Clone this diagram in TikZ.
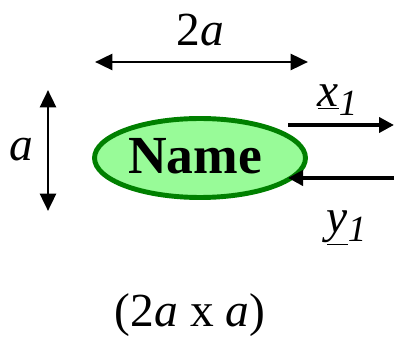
\documentclass[tikz,border=0pt]{standalone}
\usepackage{fontspec}
\setmainfont{Liberation Serif}
\usetikzlibrary{arrows.meta,positioning,shapes.geometric}
\definecolor{LeafGreen}{RGB}{152,251,152}
\definecolor{DarkGreen}{RGB}{0,128,0}

\begin{document}
\begin{tikzpicture}[x=0.02cm, y=-0.02cm,
	dim/.style={line width=1.7pt, {Triangle[length=0.35cm,width=0.32cm]}-{Triangle[length=0.35cm,width=0.32cm]}},
	port/.style={line width=2.6pt, -{Triangle[length=0.3cm,width=0.3cm]}},
	lbl/.style={font=\fontsize{27}{32}\selectfont, inner sep=0pt}]
			\useasboundingbox (0,0) rectangle (395,337);
			\node[ellipse, draw=DarkGreen, fill=LeafGreen, line width=2.8pt, minimum width=4.22cm, minimum height=1.58cm, inner sep=0pt] (block) at (200,158) {};
			\node[lbl, font=\fontsize{30.5}{36}\selectfont\bfseries] (name) at (195,156) {Name};
			\coordinate (W1) at (95,62);
			\coordinate (W2) at (308,62);
			\coordinate (H1) at (48,90);
			\coordinate (H2) at (48,211);
			\coordinate (Xout) at (394,125);
			\coordinate (Xin) at (288,125);
			\coordinate (Yout) at (394,178);
			\coordinate (Yin) at (288,178);
			\draw[dim] (W1) -- (W2);
			\draw[dim] (H1) -- (H2);
			\draw[port] (Xin) -- (Xout);
			\draw[port] (Yout) -- (Yin);
			\node[lbl] (width) at (200,30) {2\textit{a}};
			\node[lbl] (height) at (21,150) {\textit{a}};
			\node[lbl] (xlab) at (338,100) {\underline{\textit{x}}\textsubscript{\fontsize{21}{21}\selectfont\textit{1}}};
			\node[lbl] (ylab) at (347,228) {\underline{\textit{y}}\textsubscript{\fontsize{21}{21}\selectfont\textit{1}}};
			\node[lbl] (size) at (190,315) {(2\textit{a} x \textit{a})};
		\end{tikzpicture}
\end{document}
